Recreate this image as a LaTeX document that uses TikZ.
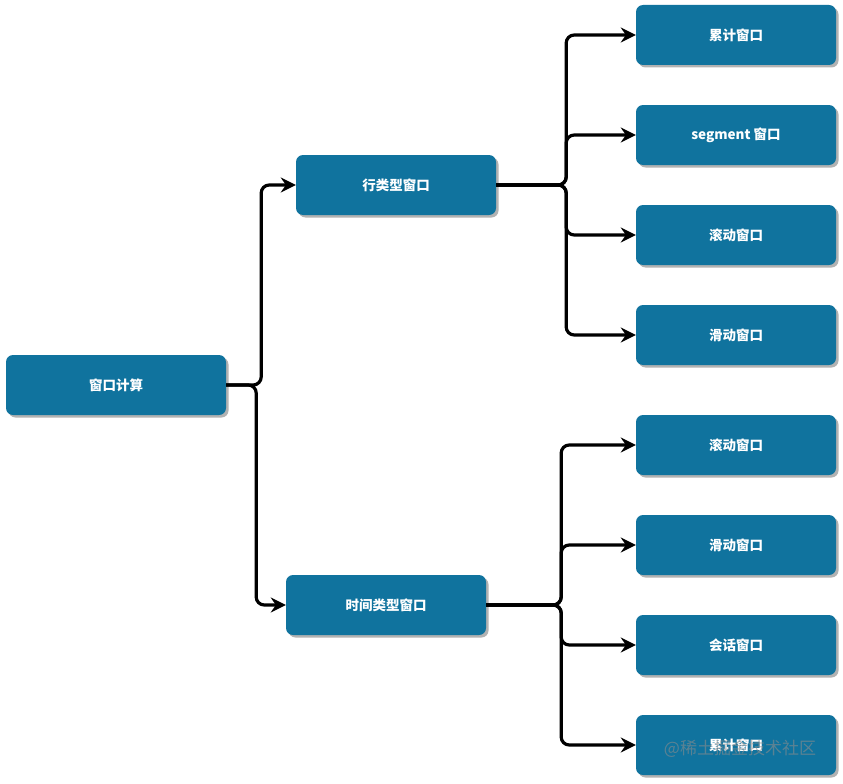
\documentclass[tikz,border=0pt]{standalone}
\usepackage{fontspec}
\setmainfont{Noto Sans CJK SC}
\usetikzlibrary{positioning,arrows.meta,shadows}
\definecolor{winblue}{HTML}{10739E}
\begin{document}
\begin{tikzpicture}[x=1pt,y=-1pt,win/.style={draw=none,fill=winblue,rounded corners=7pt,minimum width=200pt,minimum height=60pt,text=white,font=\bfseries\fontsize{13.5}{15}\selectfont,drop shadow={shadow xshift=2.5pt,shadow yshift=-2.5pt,fill=black!30,opacity=1}},link/.style={line width=3.2pt,rounded corners=8pt,-{Stealth[length=15pt,width=15pt,inset=5pt]}}]
\useasboundingbox (0,0) rectangle (843,784);
\node[win, minimum width=220pt] (root) at (116,385) {窗口计算};
\node[win] (row) at (396,185) {行类型窗口};
\node[win] (time) at (386,605) {时间类型窗口};
\foreach \n/\y/\t in {R1/35/累计窗口,R2/135/segment 窗口,R3/235/滚动窗口,R4/335/滑动窗口,T1/445/滚动窗口,T2/545/滑动窗口,T3/645/会话窗口,T4/745/累计窗口} {
   \node[win] (\n) at (736,\y) {\t};
}

\draw[link] (root.east) -- ++(35,0) |- (row.west);
\draw[link] (root.east) -- ++(30,0) |- (time.west);
\foreach \j in {R1,R2,R3,R4} {
  \draw[link] (row.east) -- ++(70,0) |- (\j.west);
}
\foreach \j in {T1,T2,T3,T4} {
  \draw[link] (time.east) -- ++(75,0) |- (\j.west);
}
% watermark
\node[text=black!45, opacity=.6, font=\fontsize{17}{19}\selectfont] (mark) at (740,749) {@稀土掘金技术社区};
\end{tikzpicture}
\end{document}
